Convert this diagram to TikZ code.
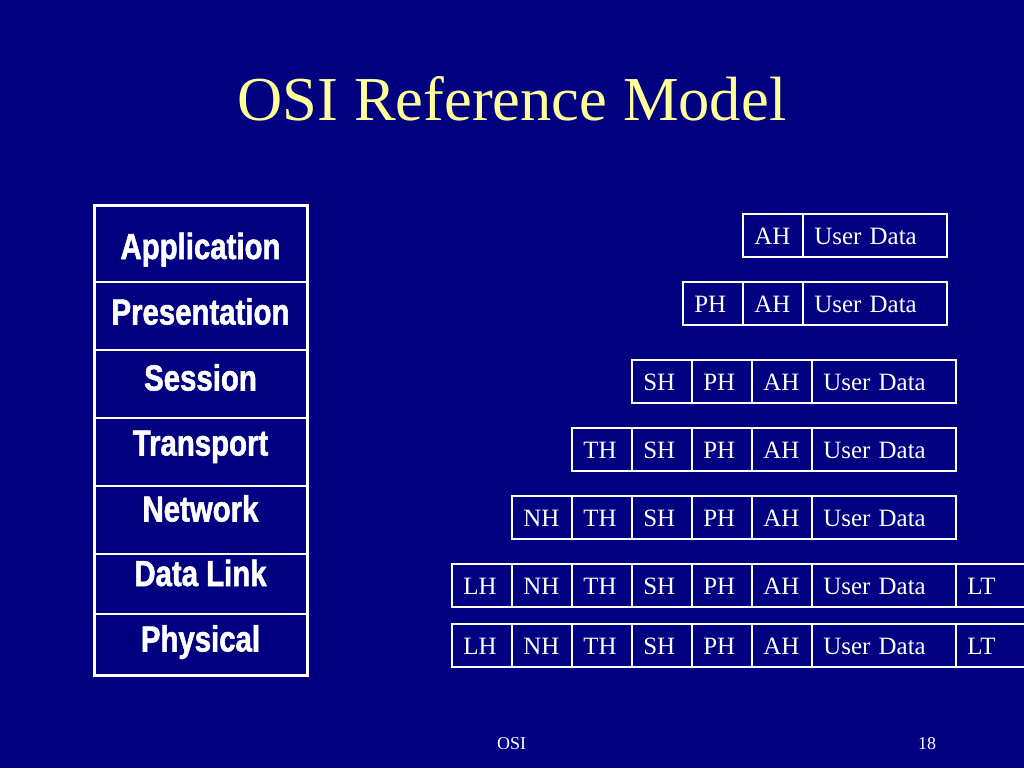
\documentclass[tikz,border=0pt]{standalone}
\usepackage{fontspec}
\setmainfont{Liberation Serif}
\newfontfamily\layerfont[FakeStretch=0.81,FakeBold=1.5]{Liberation Sans}
\usepackage{tikz}
\usetikzlibrary{positioning}
\definecolor{slidebg}{RGB}{0,0,128}
\definecolor{titleyellow}{RGB}{255,255,153}
\tikzset{
	hdr/.style={draw=white, line width=1.5pt, anchor=north west, minimum height=32.25pt,
		inner xsep=8.5pt, inner ysep=0pt, text width=28pt, align=left, text height=14pt, text depth=0pt,
		text=white, font=\fontsize{18.7}{21}\selectfont},
	usr/.style={hdr, text width=91pt},
	trl/.style={hdr, text width=58pt},
	layer/.style={anchor=base, text=white, font=\layerfont\bfseries\fontsize{27.2}{30}\selectfont},
	foot/.style={anchor=base, text=white, font=\fontsize{13.5}{15}\selectfont}
}
\begin{document}
\begin{tikzpicture}[x=0.75pt, y=-0.75pt]
		\fill[slidebg] (0,0) rectangle (1024,768);
		\useasboundingbox (0,0) rectangle (1024,768);
		
		\node[anchor=base, text=titleyellow, font=\fontsize{46.9}{50}\selectfont] (title) at (512,120) {OSI Reference Model};
		
		\draw[white, line width=2.25pt] (94,205) rectangle (307.5,675);
		\draw[white, line width=1pt] (94,282) -- (307.5,282) (94,350) -- (307.5,350) (94,418) -- (307.5,418);
		\draw[white, line width=1pt] (94,486) -- (307.5,486) (94,554) -- (307.5,554) (94,614) -- (307.5,614);
		\node[layer] (L1) at (200.5,259) {Application};
		\node[layer] (L2) at (200.5,324.5) {Presentation};
		\node[layer] (L3) at (200.5,390.5) {Session};
		\node[layer] (L4) at (200.5,455.5) {Transport};
		\node[layer] (L5) at (200.5,521.5) {Network};
		\node[layer] (L6) at (200.5,586) {Data Link};
		\node[layer] (L7) at (200.5,651.5) {Physical};
		
		\node[hdr] (11) at (742,213) {AH};
		\node[usr] (12) at (802,213) {User Data};
		
		\node[hdr] (21) at (682,281) {PH};
		\node[hdr] (22) at (742,281) {AH};
		\node[usr] (23) at (802,281) {User Data};
		
		\node[hdr] (31) at (631,358.5) {SH};
		\node[hdr] (32) at (691,358.5) {PH};
		\node[hdr] (33) at (751,358.5) {AH};
		\node[usr] (34) at (811,358.5) {User Data};
		
		\node[hdr] (41) at (571,426.5) {TH};
		\node[hdr] (42) at (631,426.5) {SH};
		\node[hdr] (43) at (691,426.5) {PH};
		\node[hdr] (44) at (751,426.5) {AH};
		\node[usr] (45) at (811,426.5) {User Data};
		
		\node[hdr] (51) at (511,494.5) {NH};
		\node[hdr] (52) at (571,494.5) {TH};
		\node[hdr] (53) at (631,494.5) {SH};
		\node[hdr] (54) at (691,494.5) {PH};
		\node[hdr] (55) at (751,494.5) {AH};
		\node[usr] (56) at (811,494.5) {User Data};
		
		\node[hdr] (61) at (451,563) {LH};
		\node[hdr] (62) at (511,563) {NH};
		\node[hdr] (63) at (571,563) {TH};
		\node[hdr] (64) at (631,563) {SH};
		\node[hdr] (65) at (691,563) {PH};
		\node[hdr] (66) at (751,563) {AH};
		\node[usr] (67) at (811,563) {User Data};
		\node[trl] (68) at (955,563) {LT};
		
		\node[hdr] (71) at (451,622.5) {LH};
		\node[hdr] (72) at (511,622.5) {NH};
		\node[hdr] (73) at (571,622.5) {TH};
		\node[hdr] (74) at (631,622.5) {SH};
		\node[hdr] (75) at (691,622.5) {PH};
		\node[hdr] (76) at (751,622.5) {AH};
		\node[usr] (77) at (811,622.5) {User Data};
		\node[trl] (78) at (955,622.5) {LT};
		
		\node[foot] (footL) at (511.5,749) {OSI};
		\node[foot] (footR) at (927,749) {18};
		\end{tikzpicture}
\end{document}
